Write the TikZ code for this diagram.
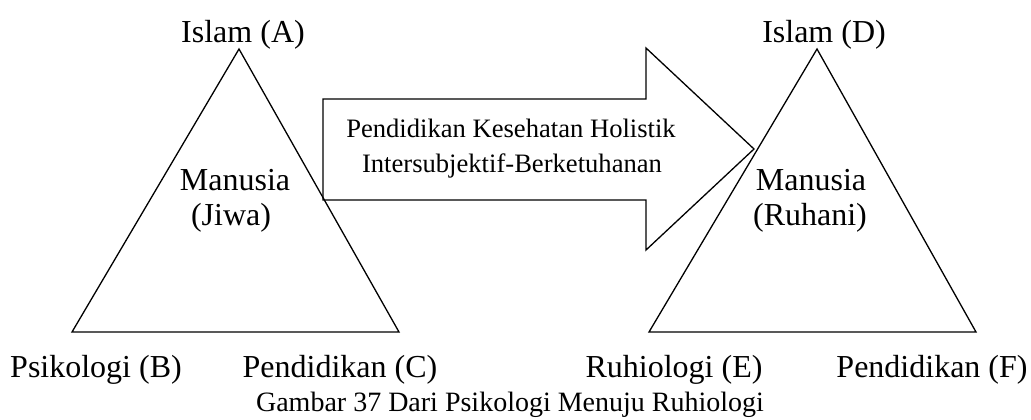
\documentclass[tikz,border=0pt]{standalone}
\usepackage{fontspec}
\setmainfont{Liberation Serif}
\tikzset{
    edge/.style={line width=0.65pt, line join=miter},
    vlabel/.style={anchor=base, inner sep=0pt, font=\fontsize{16}{19}\selectfont},
    inlabel/.style={anchor=base, inner sep=0pt, font=\fontsize{16}{19}\selectfont},
    arrowtext/.style={anchor=base, inner sep=0pt, font=\fontsize{13.3}{16}\selectfont},
}
\begin{document}
\begin{tikzpicture}[x=0.5pt, y=-0.5pt]
    \useasboundingbox (0,0) rectangle (1031,419);

    % Left triangle
    \coordinate (A) at (239,49);
    \coordinate (B) at (72,332);
    \coordinate (C) at (399,332);
    \draw[edge] (A) -- (B) -- (C) -- cycle;
    \node[vlabel] (islamA) at (243,42) {Islam (A)};
    \node[inlabel] (manusiaL) at (235,190) {Manusia};
    \node[inlabel] (jiwa) at (231,225) {(Jiwa)};
    \node[vlabel] (psikologi) at (96,377) {Psikologi (B)};
    \node[vlabel] (pendC) at (340,377) {Pendidikan (C)};

    % Right triangle
    \coordinate (D) at (817,49);
    \coordinate (E) at (649,332);
    \coordinate (F) at (976,332);
    \draw[edge] (D) -- (E) -- (F) -- cycle;
    \node[vlabel] (islamD) at (824,42) {Islam (D)};
    \node[inlabel] (manusiaR) at (811,190) {Manusia};
    \node[inlabel] (ruhani) at (810,225) {(Ruhani)};
    \node[vlabel] (ruhiologi) at (674,377) {Ruhiologi (E)};
    \node[vlabel] (pendF) at (932,377) {Pendidikan (F)};

    % Big arrow between them
    \draw[edge] (323,99) -- (646,99) -- (646,48) -- (754,149)
        -- (646,250) -- (646,200) -- (323,200) -- cycle;
    \node[arrowtext] (holistik) at (511,137) {Pendidikan Kesehatan Holistik};
    \node[arrowtext] (intersub) at (512,172) {Intersubjektif-Berketuhanan};

    % Caption
    \node[anchor=base, inner sep=0pt, font=\fontsize{14}{17}\selectfont]
        (caption) at (510,411) {Gambar 37 Dari Psikologi Menuju Ruhiologi};
\end{tikzpicture}
\end{document}
